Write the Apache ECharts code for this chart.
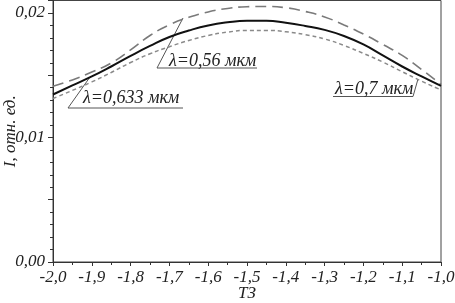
<!DOCTYPE html>
<html><head><meta charset="utf-8">
<script src="https://cdn.jsdelivr.net/npm/echarts@6/dist/echarts.min.js"></script>
<style>html,body{margin:0;padding:0;background:#fff}#c{width:455px;height:303px}</style>
</head><body><div id="c"></div>
<script>
const xValues = [-2.0, -1.95, -1.9, -1.85, -1.8, -1.75, -1.7, -1.65, -1.6, -1.55, -1.5, -1.45, -1.4, -1.35, -1.3, -1.25, -1.2, -1.15, -1.1, -1.05, -1.0];
const series056 = [0.01411, 0.01462, 0.01525, 0.01598, 0.01703, 0.01819, 0.01905, 0.01965, 0.02008, 0.02036, 0.02050, 0.02052, 0.02042, 0.02012, 0.01968, 0.01904, 0.01831, 0.01747, 0.01659, 0.01546, 0.01426];
const series0633 = [0.01345, 0.01418, 0.01490, 0.01570, 0.01655, 0.01735, 0.01807, 0.01859, 0.01900, 0.01925, 0.01937, 0.01937, 0.01921, 0.01896, 0.01864, 0.01815, 0.01747, 0.01659, 0.01570, 0.01490, 0.01414];
const series07 = [0.01313, 0.01378, 0.01446, 0.01522, 0.01602, 0.01672, 0.01729, 0.01779, 0.01819, 0.01846, 0.01860, 0.01860, 0.01849, 0.01826, 0.01791, 0.01739, 0.01675, 0.01606, 0.01528, 0.01452, 0.01382];
const yLabels = ['0,00', '0,01', '0,02'];
const xTitle = 'ТЗ';
const yTitle = 'I, отн. ед.';

const font = 'Liberation Serif';
const pair = arr => xValues.map((x, i) => [x, arr[i]]);
const chart = echarts.init(document.getElementById('c'), null, {renderer: 'canvas'});
const txt = {fontFamily: font, fontStyle: 'italic', fontSize: 17, color: '#222'};
const annFont = 'italic 18px "Liberation Serif"';
chart.setOption({
  animation: false,
  grid: {left: 53, right: 14, top: 0.5, bottom: 41, show: true, borderColor: '#444', borderWidth: 1,
         containLabel: false, outerBoundsMode: 'none'},
  xAxis: {
    type: 'value', min: -2.0, max: -1.0, interval: 0.1,
    axisLine: {lineStyle: {color: '#333', width: 1}},
    axisTick: {length: 4, lineStyle: {color: '#333'}},
    minorTick: {show: true, splitNumber: 2, length: 3, lineStyle: {color: '#333'}},
    splitLine: {show: false},
    axisLabel: Object.assign({margin: 7, formatter: v => v.toFixed(1).replace('.', ',')}, txt),
    name: xTitle, nameLocation: 'middle', nameGap: 23, nameMoveOverlap: false,
    nameTextStyle: Object.assign({verticalAlign: 'top'}, txt)
  },
  yAxis: {
    type: 'value', min: 0, max: 0.021, interval: 0.005,
    axisLine: {show: true, lineStyle: {color: '#333', width: 1}},
    axisTick: {show: true, length: 5, lineStyle: {color: '#333'}},
    minorTick: {show: true, splitNumber: 5, length: 3, lineStyle: {color: '#333'}},
    splitLine: {show: false},
    axisLabel: Object.assign({margin: 8, formatter: v => {
      const k = Math.round(v * 100);
      if (Math.abs(v * 100 - k) < 1e-6 && k < yLabels.length) return yLabels[k];
      return '';
    }}, txt),
    name: yTitle, nameLocation: 'middle', nameGap: 34, nameMoveOverlap: false,
    nameTextStyle: Object.assign({}, txt)
  },
  series: [
    {type: 'line', data: pair(series056), smooth: true, symbol: 'none',
     lineStyle: {color: '#7a7a7a', width: 1.6, type: [11, 6]}},
    {type: 'line', data: pair(series0633), smooth: true, symbol: 'none',
     lineStyle: {color: '#111', width: 2}},
    {type: 'line', data: pair(series07), smooth: true, symbol: 'none',
     lineStyle: {color: '#8a8a8a', width: 1.5, type: [4, 3]}}
  ],
  graphic: [
    {type: 'polyline', shape: {points: [[183, 18], [157, 68], [257, 68]]}, style: {stroke: '#555', lineWidth: 1, fill: null}},
    {type: 'text', x: 169, y: 61, style: {text: 'λ=0,56 мкм', font: annFont, fill: '#222', verticalAlign: 'middle'}},
    {type: 'polyline', shape: {points: [[90, 77], [68, 108], [183, 108]]}, style: {stroke: '#555', lineWidth: 1, fill: null}},
    {type: 'text', x: 83, y: 98, style: {text: 'λ=0,633 мкм', font: annFont, fill: '#222', verticalAlign: 'middle'}},
    {type: 'polyline', shape: {points: [[333, 96.5], [413, 96.5], [418, 79]]}, style: {stroke: '#555', lineWidth: 1, fill: null}},
    {type: 'text', x: 335, y: 89, style: {text: 'λ=0,7 мкм', font: annFont, fill: '#222', verticalAlign: 'middle'}}
  ]
});
</script>
</body></html>
